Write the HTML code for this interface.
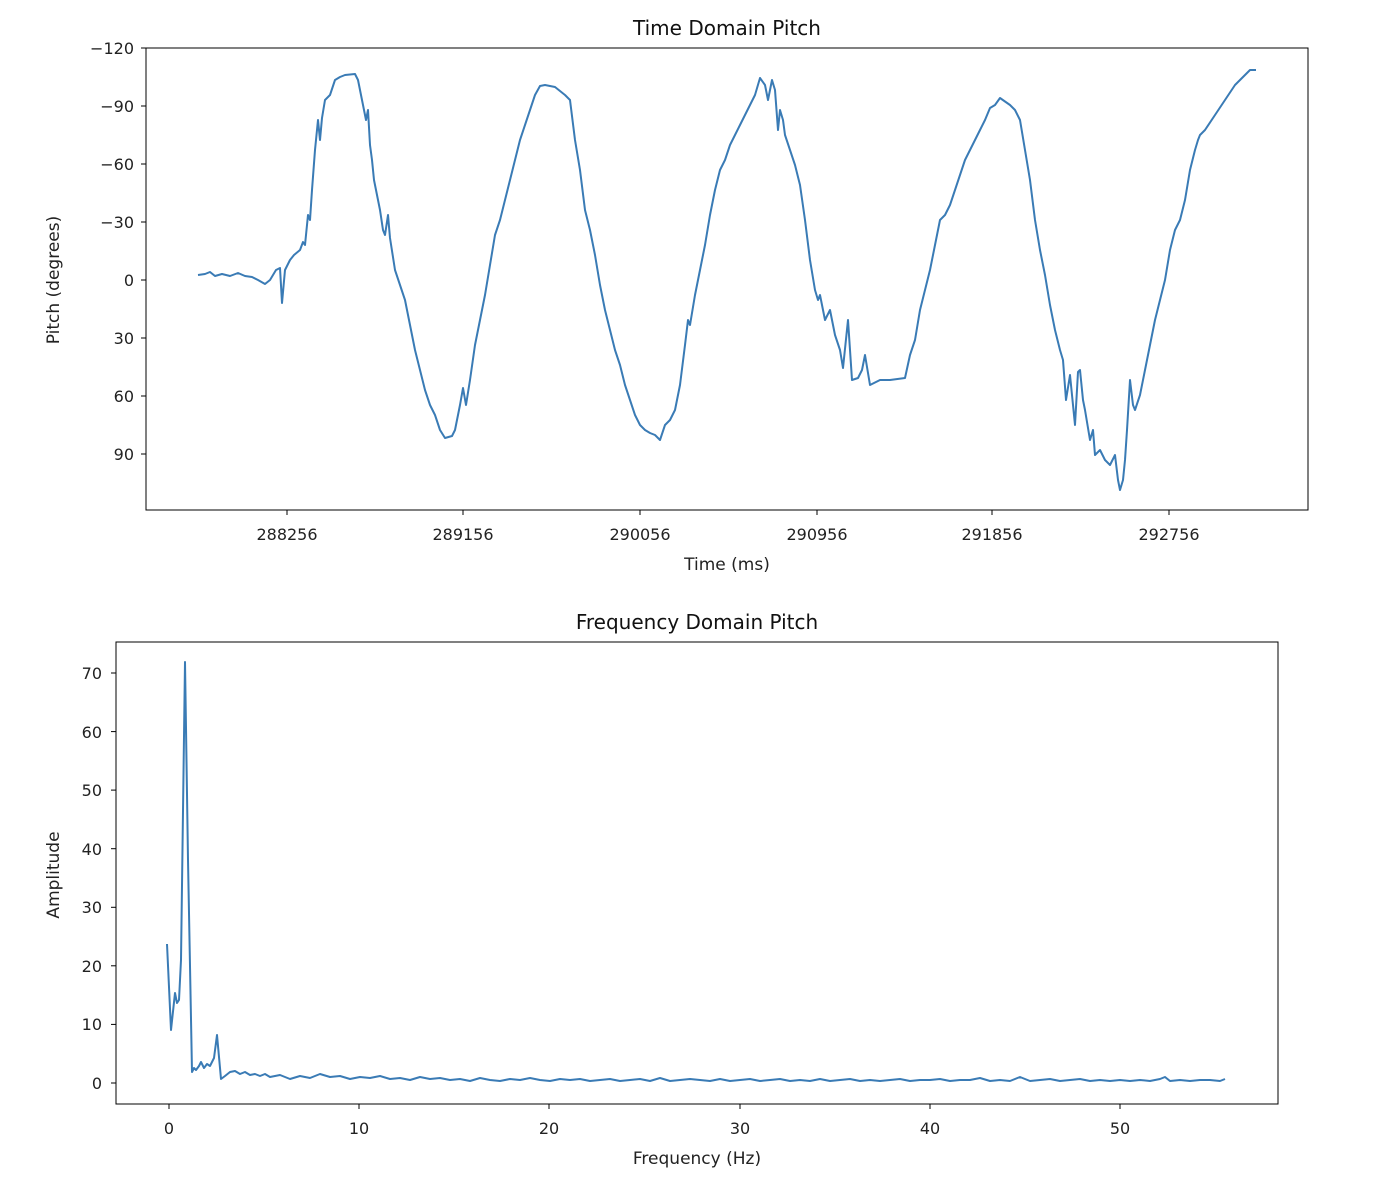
<!DOCTYPE html>
<html><head><meta charset="utf-8"><style>
body{margin:0;background:#fff;}
svg{display:block;font-family:"DejaVu Sans","Liberation Sans",sans-serif;}
.t{font-size:16px;fill:#222;}
</style></head><body>
<svg id="s" width="1384" height="1184" xmlns="http://www.w3.org/2000/svg">
<rect width="1384" height="1184" fill="#fff"/>
<!-- top -->
<text x="727" y="35" text-anchor="middle" font-size="20" fill="#111">Time Domain Pitch</text>
<rect x="146" y="48" width="1162" height="462" fill="none" stroke="#000" stroke-width="1"/>
<g stroke="#000">
<line x1="141" x2="146" y1="48" y2="48"/><line x1="141" x2="146" y1="106" y2="106"/><line x1="141" x2="146" y1="164" y2="164"/><line x1="141" x2="146" y1="222" y2="222"/><line x1="141" x2="146" y1="280" y2="280"/><line x1="141" x2="146" y1="338" y2="338"/><line x1="141" x2="146" y1="396" y2="396"/><line x1="141" x2="146" y1="454" y2="454"/>
<line x1="287" x2="287" y1="510" y2="515"/><line x1="463" x2="463" y1="510" y2="515"/><line x1="640" x2="640" y1="510" y2="515"/><line x1="817" x2="817" y1="510" y2="515"/><line x1="992" x2="992" y1="510" y2="515"/><line x1="1169" x2="1169" y1="510" y2="515"/>
</g>
<g class="t" text-anchor="end">
<text x="134" y="54">−120</text><text x="134" y="112">−90</text><text x="134" y="170">−60</text><text x="134" y="228">−30</text><text x="134" y="286">0</text><text x="134" y="344">30</text><text x="134" y="402">60</text><text x="134" y="460">90</text>
</g>
<g class="t" text-anchor="middle">
<text x="287" y="540">288256</text><text x="463" y="540">289156</text><text x="640" y="540">290056</text><text x="817" y="540">290956</text><text x="992" y="540">291856</text><text x="1169" y="540">292756</text>
<text x="727" y="570" font-size="17">Time (ms)</text>
<text x="0" y="0" font-size="17" transform="translate(59,280) rotate(-90)">Pitch (degrees)</text>
</g>
<polyline fill="none" stroke="#3a7bb5" stroke-width="2" stroke-linejoin="round" points="198,275 205,274 210,272 215,276 222,274 230,276 238,273 245,276 252,277 258,280 265,284 270,280 276,270 280,268 282,303 285,270 290,260 294,255 300,250 303,242 305,245 308,215 310,220 312,190 315,150 318,120 320,140 322,118 325,100 330,95 335,80 340,77 345,75 355,74 358,80 362,100 366,120 368,110 370,145 372,160 374,180 380,210 383,230 385,235 388,215 390,238 395,270 400,285 405,300 410,325 415,350 420,370 425,390 430,405 435,415 440,430 445,438 452,436 455,430 460,405 463,388 466,405 470,380 475,345 480,320 485,295 490,265 495,235 500,220 505,200 510,180 515,160 520,140 525,125 530,110 535,95 540,86 545,85 555,87 565,95 570,100 575,140 580,170 585,210 590,230 595,255 600,285 605,310 610,330 615,350 620,365 625,385 630,400 635,415 640,425 645,430 650,433 655,435 660,440 665,425 670,420 675,410 680,385 685,345 688,320 690,325 695,295 700,270 705,245 710,215 715,190 720,170 725,160 730,145 735,135 740,125 745,115 750,105 755,95 760,78 765,85 768,100 772,80 775,90 778,130 780,110 783,120 785,135 790,150 795,165 800,185 805,220 810,260 815,290 818,300 820,295 825,320 830,310 835,335 840,350 843,368 848,320 852,380 858,378 862,370 865,355 870,385 880,380 890,380 905,378 910,355 915,340 920,310 925,290 930,270 935,245 940,220 945,215 950,205 955,190 960,175 965,160 970,150 975,140 980,130 985,120 990,108 995,105 1000,98 1010,105 1015,110 1020,120 1025,150 1030,180 1035,220 1040,250 1045,275 1050,305 1055,330 1060,350 1063,360 1066,400 1070,375 1075,425 1078,372 1080,370 1083,400 1085,410 1090,440 1093,430 1095,455 1100,450 1105,460 1110,465 1115,455 1118,480 1120,490 1123,480 1125,460 1127,430 1130,380 1133,405 1135,410 1140,395 1145,370 1150,345 1155,320 1160,300 1165,280 1170,250 1175,230 1180,220 1185,200 1190,170 1195,150 1198,140 1200,135 1205,130 1215,115 1225,100 1235,85 1240,80 1250,70 1256,70"/>
<!-- bottom -->
<text x="697" y="629" text-anchor="middle" font-size="20" fill="#111">Frequency Domain Pitch</text>
<rect x="116" y="642" width="1162" height="462" fill="none" stroke="#000" stroke-width="1"/>
<g stroke="#000">
<line x1="111" x2="116" y1="1083" y2="1083"/><line x1="111" x2="116" y1="1024.4" y2="1024.4"/><line x1="111" x2="116" y1="965.8" y2="965.8"/><line x1="111" x2="116" y1="907.3" y2="907.3"/><line x1="111" x2="116" y1="848.7" y2="848.7"/><line x1="111" x2="116" y1="790.1" y2="790.1"/><line x1="111" x2="116" y1="731.6" y2="731.6"/><line x1="111" x2="116" y1="673" y2="673"/>
<line x1="169" x2="169" y1="1104" y2="1109"/><line x1="359" x2="359" y1="1104" y2="1109"/><line x1="549" x2="549" y1="1104" y2="1109"/><line x1="740" x2="740" y1="1104" y2="1109"/><line x1="930" x2="930" y1="1104" y2="1109"/><line x1="1120" x2="1120" y1="1104" y2="1109"/>
</g>
<g class="t" text-anchor="end">
<text x="102" y="1089">0</text><text x="102" y="1030">10</text><text x="102" y="972">20</text><text x="102" y="913">30</text><text x="102" y="855">40</text><text x="102" y="796">50</text><text x="102" y="738">60</text><text x="102" y="679">70</text>
</g>
<g class="t" text-anchor="middle">
<text x="169" y="1134">0</text><text x="359" y="1134">10</text><text x="549" y="1134">20</text><text x="740" y="1134">30</text><text x="930" y="1134">40</text><text x="1120" y="1134">50</text>
<text x="697" y="1164" font-size="17">Frequency (Hz)</text>
<text x="0" y="0" font-size="17" transform="translate(59,875) rotate(-90)">Amplitude</text>
</g>
<polyline fill="none" stroke="#3a7bb5" stroke-width="2" stroke-linejoin="round" points="167,944 171,1030 175,993 177,1003 179,1000 181,960 185,662 188,860 192,1072 194,1068 196,1070 199,1066 201,1062 204,1068 207,1064 210,1066 214,1058 217,1035 221,1079 225,1076 230,1072 235,1071 240,1074 245,1072 250,1075 255,1074 260,1076 265,1074 270,1077 280,1075 290,1079 300,1076 310,1078 320,1074 330,1077 340,1076 350,1079 360,1077 370,1078 380,1076 390,1079 400,1078 410,1080 420,1077 430,1079 440,1078 450,1080 460,1079 470,1081 480,1078 490,1080 500,1081 510,1079 520,1080 530,1078 540,1080 550,1081 560,1079 570,1080 580,1079 590,1081 600,1080 610,1079 620,1081 630,1080 640,1079 650,1081 660,1078 670,1081 680,1080 690,1079 700,1080 710,1081 720,1079 730,1081 740,1080 750,1079 760,1081 770,1080 780,1079 790,1081 800,1080 810,1081 820,1079 830,1081 840,1080 850,1079 860,1081 870,1080 880,1081 890,1080 900,1079 910,1081 920,1080 930,1080 940,1079 950,1081 960,1080 970,1080 980,1078 990,1081 1000,1080 1010,1081 1020,1077 1030,1081 1040,1080 1050,1079 1060,1081 1070,1080 1080,1079 1090,1081 1100,1080 1110,1081 1120,1080 1130,1081 1140,1080 1150,1081 1160,1079 1165,1077 1170,1081 1180,1080 1190,1081 1200,1080 1210,1080 1220,1081 1225,1079"/>
</svg>
</body></html>
